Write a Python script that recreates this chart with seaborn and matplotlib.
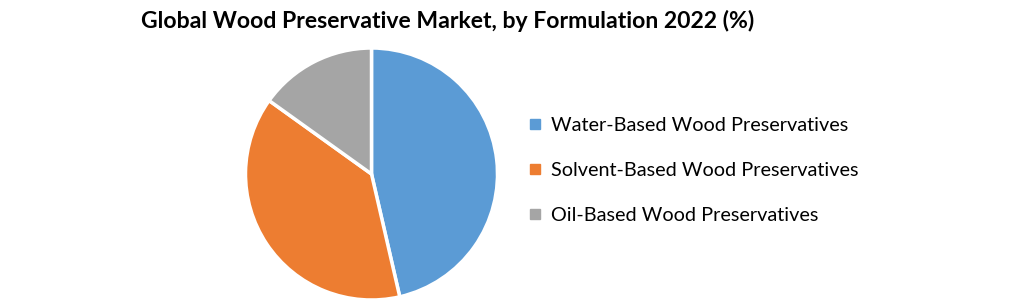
import matplotlib
matplotlib.use("Agg")
import matplotlib.pyplot as plt
from matplotlib.lines import Line2D
import seaborn as sns

categories = ["Water-Based Wood Preservatives", "Solvent-Based Wood Preservatives", "Oil-Based Wood Preservatives"]
shares = [46.4, 38.5, 15.1]
colors = ["#5B9BD5", "#ED7D31", "#A5A5A5"]
title = "Global Wood Preservative Market, by Formulation 2022 (%)"

sns.set_theme(style="white")
plt.rcParams["font.family"] = ["Lato", "DejaVu Sans"]
plt.rcParams["text.color"] = "black"

W, H = 1021, 304
fig = plt.figure(figsize=(W / 100, H / 100), dpi=100)
fig.patch.set_facecolor("white")

cx, cy, r = 371.5, 174, 126
ax = fig.add_axes([(cx - r) / W, (H - cy - r) / H, 2 * r / W, 2 * r / H])
wedges, _ = ax.pie(shares, colors=colors, startangle=90, counterclock=False,
                   wedgeprops=dict(edgecolor="white", linewidth=2.5))
ax.set_xlim(-1, 1)
ax.set_ylim(-1, 1)
ax.set_aspect("equal")
ax.axis("off")

handles = [Line2D([0], [0], marker="s", linestyle="none", markersize=7.5,
                  markerfacecolor=c, markeredgecolor=c) for c in colors]
leg = fig.legend(handles, categories, loc="upper left", bbox_to_anchor=(530 / W, 1 - 117 / H),
                 frameon=False, fontsize=14.3, handlelength=0.5, handletextpad=0.55,
                 labelspacing=1.4, borderaxespad=0, borderpad=0)
for t in leg.get_texts():
    t.set_color("black")

fig.text(448 / W, 1 - 21 / H, title, ha="center", va="center",
         fontsize=16.6, fontweight="bold", color="black")

fig.savefig("out.png", dpi=100, facecolor="white")
